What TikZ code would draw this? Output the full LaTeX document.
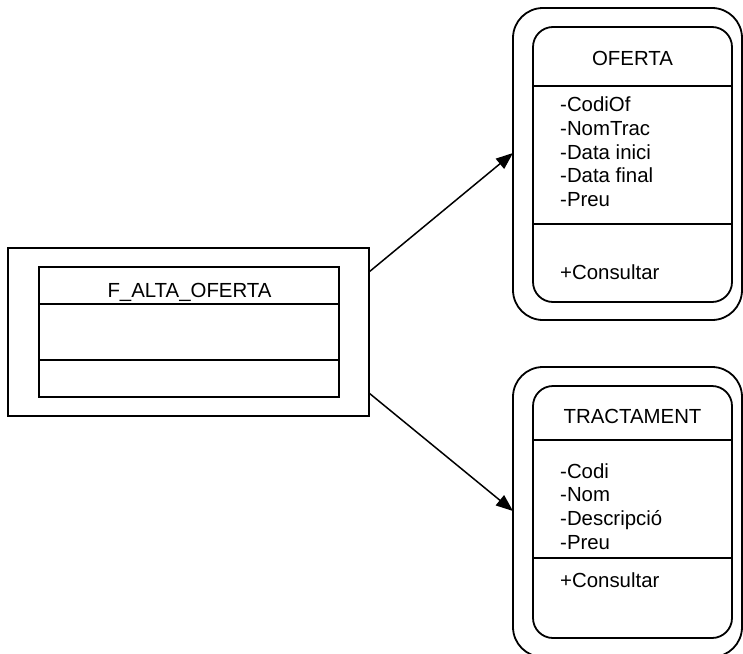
\documentclass[tikz,border=0pt]{standalone}
\usepackage{fontspec}
\setmainfont{Liberation Sans}
\usetikzlibrary{arrows.meta}
\begin{document}
\begin{tikzpicture}[x=1pt,y=-1pt,
  every node/.style={font=\fontsize{20.4}{24}\selectfont},
  frame/.style={draw,line width=1.8pt,inner sep=0pt,outer sep=0pt},
  outerbox/.style={frame,rounded corners=30pt},
  innerbox/.style={frame,rounded corners=20pt},
  divider/.style={line width=1.7pt},
  attr/.style={anchor=base west,inner sep=0pt},
  title/.style={anchor=base,inner sep=0pt},
  link/.style={line width=1.5pt,-{Triangle[length=17pt,width=13pt]}}]
\useasboundingbox (0,0) rectangle (743,653);
\clip (0,0) rectangle (743,653);

% form class on the left
\node[frame,minimum width=361pt,minimum height=168pt] (fo) at (188.5,332) {};
\node[frame,minimum width=300pt,minimum height=130pt] (fi) at (189,332) {};
\draw[divider] (fi.west |- 0,304) -- (fi.east |- 0,304);
\draw[divider] (fi.west |- 0,360) -- (fi.east |- 0,360);
\node[title] (ft) at (189.5,297) {F\_ALTA\_OFERTA};

% OFERTA class
\node[outerbox,minimum width=229pt,minimum height=312pt] (oo) at (627.5,164) {};
\node[innerbox,minimum width=199pt,minimum height=275pt] (oi) at (632.5,164.5) {};
\draw[divider] (oi.west |- 0,86) -- (oi.east |- 0,86);
\draw[divider] (oi.west |- 0,224) -- (oi.east |- 0,224);
\node[title] (ot) at (632.5,65) {OFERTA};
\node[attr] (o1) at (560,111.7) {-CodiOf};
\node[attr] (o2) at (560,135.4) {-NomTrac};
\node[attr] (o3) at (560,159.1) {-Data inici};
\node[attr] (o4) at (560,182.8) {-Data final};
\node[attr] (o5) at (560,206.5) {-Preu};
\node[attr] (om) at (560,279) {+Consultar};

% TRACTAMENT class
\node[outerbox,minimum width=229pt,minimum height=290pt] (to) at (627.5,512) {};
\node[innerbox,minimum width=199pt,minimum height=252pt] (ti) at (632.5,512) {};
\draw[divider] (ti.west |- 0,440) -- (ti.east |- 0,440);
\draw[divider] (ti.west |- 0,558) -- (ti.east |- 0,558);
\node[title] (tt) at (632.5,423) {TRACTAMENT};
\node[attr] (t1) at (560,478) {-Codi};
\node[attr] (t2) at (560,501.7) {-Nom};
\node[attr] (t3) at (560,525.4) {-Descripció};
\node[attr] (t4) at (560,549.1) {-Preu};
\node[attr] (tm) at (560,587) {+Consultar};

% associations
\draw[link] ([yshift=60pt]fo.east) -- ([yshift=11pt]oo.west);
\draw[link] ([yshift=-61pt]fo.east) -- ([yshift=1pt]to.west);
\end{tikzpicture}
\end{document}
